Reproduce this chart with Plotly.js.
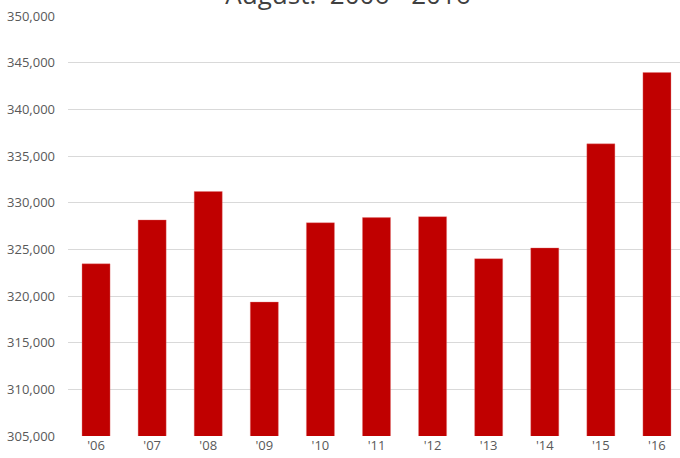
<!DOCTYPE html>
<html><head><meta charset="utf-8">
<script src="https://cdn.plot.ly/plotly-3.0.1.min.js"></script>
<style>html,body{margin:0;padding:0;overflow:hidden;background:#fff}</style>
</head><body>
<div id="chart" style="width:685px;height:458px"></div>
<script>
const categories = ["'06","'07","'08","'09","'10","'11","'12","'13","'14","'15","'16"];
const values = [323450, 328150, 331200, 319350, 327850, 328400, 328500, 324000, 325150, 336300, 343950];
const titleText = "August:  2006 - 2016";

Plotly.newPlot('chart', [{
  type: 'bar',
  x: categories,
  y: values,
  marker: {color: '#c00000', line: {color: 'rgba(230,120,120,0.6)', width: 0.6}},
  hoverinfo: 'x+y'
}], {
  width: 685, height: 458,
  margin: {l: 68, r: 0, t: 16, b: 22},
  paper_bgcolor: '#fff', plot_bgcolor: '#fff',
  bargap: 0.5,
  showlegend: false,
  title: {text: titleText, x: 0.508, xanchor: 'center', yref: 'container', y: 0.992, yanchor: 'bottom',
          font: {family: 'Open Sans, sans-serif', size: 26, color: '#404040'}},
  font: {family: 'Open Sans, sans-serif', color: '#595959'},
  xaxis: {type: 'category', tickfont: {size: 13, color: '#595959'}, showgrid: false, ticks: '', showline: false, zeroline: false},
  yaxis: {range: [305000, 350000], dtick: 5000, tickformat: ',d', tickfont: {size: 13, color: '#595959'},
          gridcolor: '#d9d9d9', gridwidth: 1, zeroline: false, showline: false, ticks: '', ticklabelstandoff: 12}
}, {displayModeBar: false, staticPlot: true});
</script>
</body></html>
